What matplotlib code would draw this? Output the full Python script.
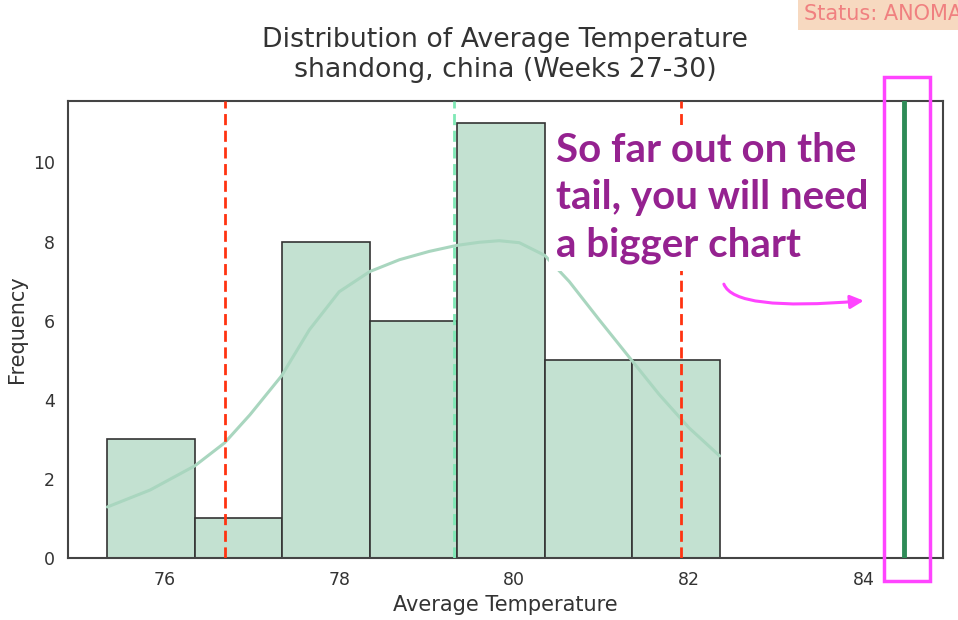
import numpy as np
import matplotlib
matplotlib.use("Agg")
import matplotlib.pyplot as plt
from matplotlib.patches import Rectangle, FancyArrowPatch
import seaborn as sns

# ----- data -----
bin_edges = [75.35, 76.35, 77.35, 78.35, 79.35, 80.35, 81.35, 82.35]
bin_counts = [3, 1, 8, 6, 11, 5, 5]

kde_x = [75.35, 75.84, 76.35, 76.69, 76.98, 77.34, 77.66, 78.00, 78.35, 78.69,
         79.03, 79.34, 79.60, 79.83, 80.06, 80.35, 80.63, 80.97, 81.34, 81.66,
         82.00, 82.35]
kde_y = [1.29, 1.72, 2.33, 2.91, 3.62, 4.60, 5.77, 6.73, 7.24, 7.54,
         7.75, 7.90, 7.98, 8.02, 7.97, 7.65, 6.99, 6.03, 5.01, 4.13,
         3.29, 2.58]

mean_temp = 79.31
band_low, band_high = 76.69, 81.91
current_temp = 84.46

title = "Distribution of Average Temperature\nshandong, china (Weeks 27-30)"
note = "So far out on the\ntail, you will need\na bigger chart"
status = "Status: ANOMALY"

# ----- style -----
sns.set_theme(style="white")
plt.rcParams["font.family"] = ["DejaVu Sans"]

fig = plt.figure(figsize=(9.58, 6.2), dpi=100)
ax = fig.add_axes([0.071, 0.1, 0.913, 0.737])

widths = np.diff(bin_edges)
ax.bar(bin_edges[:-1], bin_counts, width=widths, align="edge",
       color="#c3e1d1", edgecolor="#333333", linewidth=1.2, zorder=2)
ax.plot(kde_x, kde_y, color="#a9d6bf", lw=2.2, zorder=3)

dash = (0, (4, 2))
ax.axvline(band_low, color="#ff3311", ls=dash, lw=2, zorder=4)
ax.axvline(band_high, color="#ff3311", ls=dash, lw=2, zorder=4)
ax.axvline(mean_temp, color="#7fe8b5", ls=dash, lw=2, zorder=4)
ax.axvline(current_temp, color="#2e8b57", lw=3.5, zorder=4)

ax.set_xlim(74.9, 84.9)
ax.set_ylim(0, 11.55)
ax.set_xticks([76, 78, 80, 82, 84])
ax.set_yticks([0, 2, 4, 6, 8, 10])
ax.tick_params(labelsize=12.5, colors="#333333")
for s in ax.spines.values():
    s.set_color("#444444")
    s.set_linewidth(1.5)

ax.set_xlabel("Average Temperature", fontsize=15, color="#333333")
ax.set_ylabel("Frequency", fontsize=15, color="#333333")
ax.set_title(title, fontsize=19.3, color="#333333", pad=17, linespacing=1.2)

# highlight box around the current value
ax.add_patch(Rectangle((84.23, -0.58), 0.52, 12.73, fill=False,
                       edgecolor="#ff44ff", lw=2.5, clip_on=False, zorder=6))

ax.text(80.48, 9.1, note, fontsize=29, fontweight="bold", family="Lato",
        color="#952290", ha="left", va="center", linespacing=1.35, zorder=5,
        bbox=dict(facecolor="white", edgecolor="none", pad=5))

arrow = FancyArrowPatch((82.39, 6.99), (84.03, 6.51),
                        connectionstyle="angle3,angleA=-80,angleB=5",
                        arrowstyle="-|>,head_length=8,head_width=4",
                        color="#ff44ff", lw=2.2, zorder=6)
ax.add_patch(arrow)

fig.text(0.839, 0.977, status, fontsize=15, color="#f08080",
         ha="left", va="center",
         bbox=dict(facecolor="#f7d9c0", edgecolor="none", pad=4))

fig.savefig("out.png", dpi=100)
